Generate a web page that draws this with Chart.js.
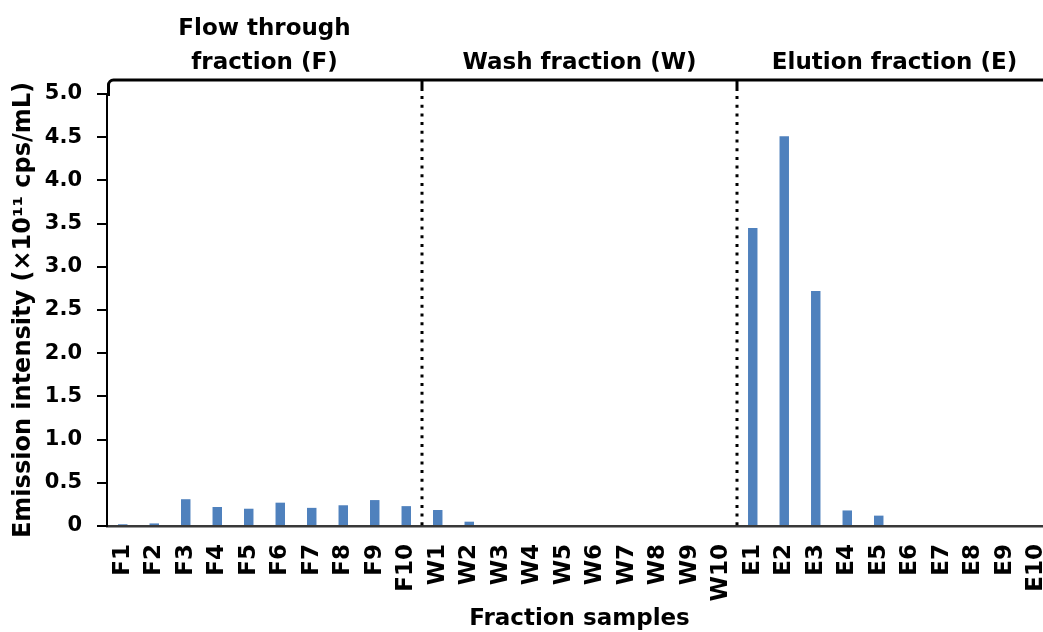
<!DOCTYPE html>
<html>
<head>
<meta charset="utf-8">
<script src="https://cdn.jsdelivr.net/npm/chart.js@4.4.0/dist/chart.umd.min.js"></script>
<style>
  html, body { margin: 0; padding: 0; background: #ffffff; overflow: hidden; }
  #wrap { width: 1043px; height: 632px; overflow: hidden; position: relative; }
  canvas { display: block; }
</style>
</head>
<body>
<div id="wrap"><canvas id="chart" width="1060" height="632"></canvas></div>
<script>
// Fraction labels along the x axis
const categories = [
  'F1','F2','F3','F4','F5','F6','F7','F8','F9','F10',
  'W1','W2','W3','W4','W5','W6','W7','W8','W9','W10',
  'E1','E2','E3','E4','E5','E6','E7','E8','E9','E10'
];

// Emission intensity per fraction (x10^11 cps/mL)
const flowThroughValues = [0.02, 0.03, 0.31, 0.22, 0.20, 0.27, 0.21, 0.24, 0.30, 0.23];
const washValues        = [0.185, 0.05, 0, 0, 0, 0, 0, 0, 0, 0];
const elutionValues     = [3.45, 4.51, 2.72, 0.18, 0.12, 0, 0, 0, 0, 0];

// Y axis tick labels
const yTickValues = [0, 0.5, 1.0, 1.5, 2.0, 2.5, 3.0, 3.5, 4.0, 4.5, 5.0];
const yTickLabels = ['0', '0.5', '1.0', '1.5', '2.0', '2.5', '3.0', '3.5', '4.0', '4.5', '5.0'];

// Fraction groups shown above the plot
const groupTitles = [['Flow through', 'fraction (F)'], ['Wash fraction (W)'], ['Elution fraction (E)']];
const groupSizes = [10, 10, 10];

const values = flowThroughValues.concat(washValues, elutionValues);

const FONT = '"DejaVu Sans", "Liberation Sans", Arial, sans-serif';

// Bracket over the groups, dotted separators and group titles
const groupBracket = {
  id: 'groupBracket',
  afterDraw(chart) {
    const { ctx, chartArea, scales: { x } } = chart;
    const lineY = 80;
    const ctxW = chart.width;
    ctx.save();
    ctx.strokeStyle = '#000000';
    ctx.lineWidth = 3;
    ctx.lineCap = 'butt';
    // top bracket with rounded left corner
    const left = chartArea.left + 1.5;
    ctx.beginPath();
    ctx.moveTo(left, chartArea.top + 2);
    ctx.lineTo(left, lineY + 5);
    ctx.arcTo(left, lineY, left + 5, lineY, 5);
    ctx.lineTo(ctxW, lineY);
    ctx.stroke();

    // separators between groups
    let idx = 0;
    const bounds = [chartArea.left];
    for (let g = 0; g < groupSizes.length; g++) {
      idx += groupSizes[g];
      if (idx < categories.length) {
        const bx = (x.getPixelForValue(idx - 1) + x.getPixelForValue(idx)) / 2;
        bounds.push(bx);
        ctx.setLineDash([]);
        ctx.beginPath();
        ctx.moveTo(bx, lineY);
        ctx.lineTo(bx, lineY + 11);
        ctx.stroke();
        ctx.setLineDash([3, 5.7]);
        ctx.beginPath();
        ctx.moveTo(bx, lineY + 16);
        ctx.lineTo(bx, chartArea.bottom);
        ctx.stroke();
      } else {
        bounds.push(chartArea.right);
      }
    }
    ctx.setLineDash([]);

    // group titles
    ctx.fillStyle = '#000000';
    ctx.font = 'bold 23px ' + FONT;
    ctx.textAlign = 'center';
    ctx.textBaseline = 'alphabetic';
    for (let g = 0; g < groupTitles.length; g++) {
      const cx = (bounds[g] + bounds[g + 1]) / 2;
      const lines = groupTitles[g];
      for (let i = 0; i < lines.length; i++) {
        const baseY = 69 - (lines.length - 1 - i) * 34;
        ctx.fillText(lines[i], cx, baseY);
      }
    }
    ctx.restore();
  }
};

new Chart(document.getElementById('chart'), {
  type: 'bar',
  data: {
    labels: categories,
    datasets: [{
      data: values,
      backgroundColor: '#4F81BD',
      borderWidth: 0,
      barPercentage: 0.3,
      categoryPercentage: 1.0
    }]
  },
  options: {
    responsive: false,
    animation: false,
    devicePixelRatio: 1,
    layout: { padding: { top: 94, right: 8, bottom: 0, left: 0 } },
    plugins: {
      legend: { display: false },
      tooltip: { enabled: false }
    },
    scales: {
      x: {
        offset: true,
        grid: { display: true, drawOnChartArea: false, drawTicks: false },
        border: { display: true, color: '#383838', width: 2.5 },
        ticks: {
          autoSkip: false,
          minRotation: 90,
          maxRotation: 90,
          padding: 18,
          color: '#000000',
          font: { family: FONT, size: 23, weight: 'bold' }
        },
        title: {
          display: true,
          text: 'Fraction samples',
          color: '#000000',
          font: { family: FONT, size: 23, weight: 'bold', lineHeight: 1 },
          padding: { top: 0, bottom: 1 }
        },
        afterFit(scale) {
          scale.height = 106;
          scale.paddingLeft = 0;
          scale.paddingRight = 0;
        }
      },
      y: {
        min: 0,
        max: 5,
        afterBuildTicks(scale) {
          scale.ticks = yTickValues.map(v => ({ value: v }));
        },
        grid: { display: true, drawOnChartArea: false, drawTicks: true, tickLength: 10, color: '#000000', lineWidth: 2 },
        border: { display: true, color: '#000000', width: 2 },
        ticks: {
          padding: 15,
          color: '#000000',
          font: { family: FONT, size: 21, weight: 'bold' },
          callback(value) {
            const i = yTickValues.indexOf(value);
            return i >= 0 ? yTickLabels[i] : '';
          }
        },
        title: {
          display: true,
          text: 'Emission intensity (×10¹¹ cps/mL)',
          color: '#000000',
          font: { family: FONT, size: 24, weight: 'bold', lineHeight: 1 },
          padding: { top: 12, bottom: 0 }
        },
        afterFit(scale) {
          scale.width = 107;
          scale.paddingTop = 0;
          scale.paddingBottom = 0;
        }
      }
    }
  },
  plugins: [groupBracket]
});
</script>
</body>
</html>
